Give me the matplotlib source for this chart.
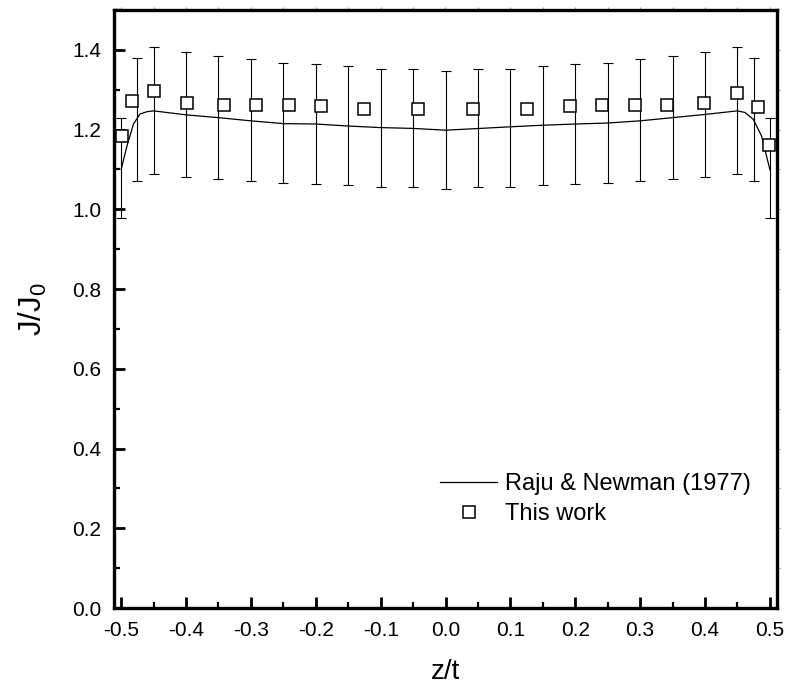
import matplotlib
matplotlib.use("Agg")
import matplotlib.pyplot as plt
import numpy as np
from matplotlib.ticker import MultipleLocator, FormatStrFormatter

plt.rcParams['font.family'] = ['Liberation Sans', 'DejaVu Sans']
plt.rcParams['mathtext.default'] = 'regular'

# Raju & Newman (1977) curve
z_line = [-0.5, -0.491, -0.481, -0.471, -0.46, -0.45, -0.4, -0.35, -0.3, -0.25,
          -0.2, -0.15, -0.1, -0.05, 0.0, 0.05, 0.1, 0.15, 0.2, 0.25, 0.3, 0.35,
          0.4, 0.45, 0.4615, 0.4743, 0.4872, 0.5]
j_line = [1.100, 1.159, 1.214, 1.239, 1.245, 1.247, 1.237, 1.230, 1.222, 1.215,
          1.214, 1.209, 1.205, 1.203, 1.1985, 1.2027, 1.207, 1.211, 1.214, 1.2165,
          1.222, 1.230, 1.238, 1.247, 1.243, 1.226, 1.184, 1.100]

# error bars on the reference curve
z_err = [-0.5, -0.475, -0.45, -0.4, -0.35, -0.3, -0.25, -0.2, -0.15, -0.1, -0.05,
         0.0, 0.05, 0.1, 0.15, 0.2, 0.25, 0.3, 0.35, 0.4, 0.45, 0.475, 0.5]
err_upper = [1.229, 1.380, 1.406, 1.395, 1.385, 1.376, 1.368, 1.364, 1.360, 1.353,
             1.351, 1.346, 1.351, 1.353, 1.360, 1.364, 1.368, 1.376, 1.385, 1.395,
             1.406, 1.380, 1.229]
err_lower = [0.979, 1.072, 1.088, 1.080, 1.075, 1.070, 1.065, 1.063, 1.060, 1.056,
             1.055, 1.051, 1.055, 1.056, 1.060, 1.063, 1.065, 1.070, 1.075, 1.080,
             1.088, 1.072, 0.979]

# This work
z_sq = [-0.499, -0.483, -0.449, -0.399, -0.341, -0.292, -0.242, -0.192, -0.126, -0.042,
        0.042, 0.125, 0.192, 0.241, 0.292, 0.341, 0.399, 0.449, 0.482, 0.499]
j_sq = [1.183, 1.272, 1.296, 1.266, 1.261, 1.261, 1.261, 1.260, 1.251, 1.251,
        1.251, 1.251, 1.260, 1.261, 1.261, 1.261, 1.266, 1.292, 1.256, 1.162]

x_ticks = [-0.5, -0.4, -0.3, -0.2, -0.1, 0.0, 0.1, 0.2, 0.3, 0.4, 0.5]
y_ticks = [0.0, 0.2, 0.4, 0.6, 0.8, 1.0, 1.2, 1.4]

fig = plt.figure(figsize=(7.87, 6.84), dpi=100)
ax = fig.add_axes([114/787, 1-608/684, (777-114)/787, (608-10)/684])

up = np.array(err_upper)
lo = np.array(err_lower)
mid = (up + lo) / 2
ax.errorbar(z_err, mid, yerr=[mid - lo, up - mid], fmt='none', ecolor='black',
            elinewidth=0.8, capsize=3.6, capthick=0.8, zorder=2)
ax.plot(z_line, j_line, color='black', lw=0.9, zorder=3,
        label='Raju & Newman (1977)')
ax.plot(z_sq, j_sq, linestyle='none', marker='s', markersize=8,
        markerfacecolor='white', markeredgecolor='black', markeredgewidth=1.1,
        zorder=4, label='This work')

ax.set_xlim(-0.511, 0.511)
ax.set_ylim(0, 1.5)
ax.set_xticks(x_ticks)
ax.set_yticks(y_ticks)
ax.xaxis.set_minor_locator(MultipleLocator(0.05))
ax.yaxis.set_minor_locator(MultipleLocator(0.1))
ax.xaxis.set_major_formatter(FormatStrFormatter('%.1f'))
ax.yaxis.set_major_formatter(FormatStrFormatter('%.1f'))

for s in ax.spines.values():
    s.set_linewidth(2.4)

ax.tick_params(which='major', direction='in', length=8, width=2.0,
               labelsize=15, pad=9, top=False, right=False)
ax.tick_params(which='minor', direction='in', length=4, width=1.6,
               top=False, right=False)

# faint outer ticks on top and right edges
sx = ax.secondary_xaxis('top')
sx.set_xticks(np.arange(-0.5, 0.51, 0.05))
sx.tick_params(direction='out', length=2, width=0.8, colors='#999999',
               labelsize=0, labeltop=False)
sx.spines['top'].set_visible(False)
sy = ax.secondary_yaxis('right')
sy.set_yticks(np.arange(0.1, 1.45, 0.1))
sy.tick_params(direction='out', length=2, width=0.8, colors='#999999',
               labelright=False)
sy.spines['right'].set_visible(False)

ax.set_xlabel('z/t', fontsize=20, labelpad=14)
ax.set_ylabel('J/J$_0$', fontsize=22.5, labelpad=17)

leg = ax.legend(loc='upper left', bbox_to_anchor=(0.492, 0.226), frameon=False,
                fontsize=17, handlelength=2.4, handletextpad=0.35,
                labelspacing=0.35, borderpad=0, borderaxespad=0)

fig.savefig('out.png', dpi=100)
